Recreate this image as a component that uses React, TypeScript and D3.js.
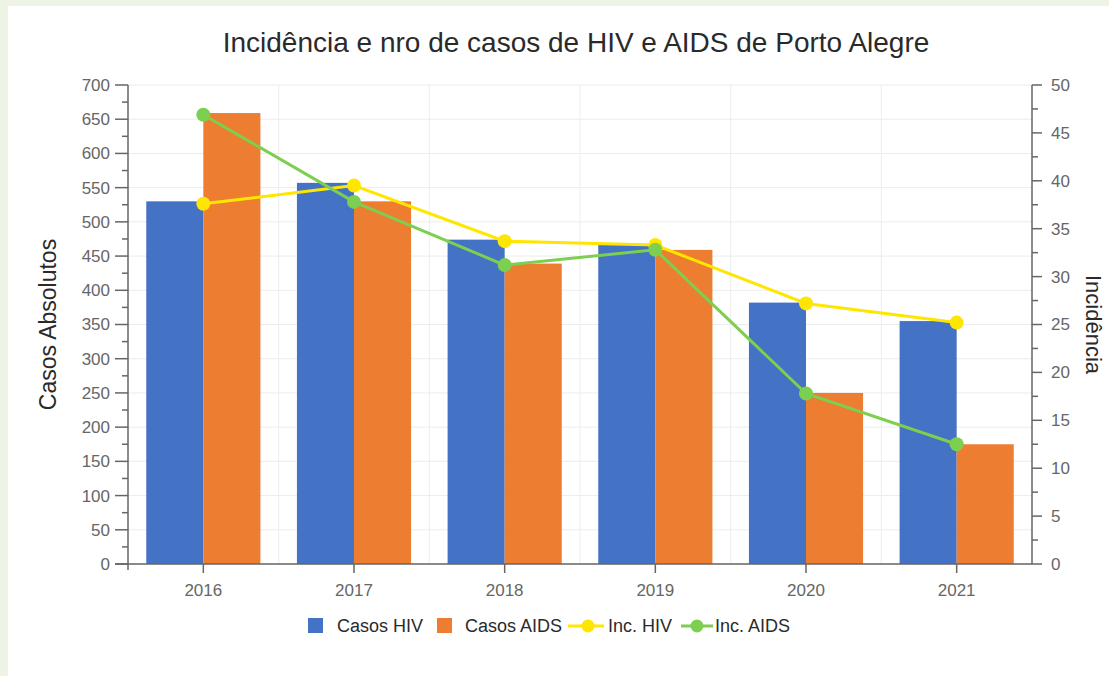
import * as d3 from 'd3';

const years = ['2016', '2017', '2018', '2019', '2020', '2021'];
const casosHIV = [530, 557, 474, 466, 382, 355];
const casosAIDS = [659, 530, 439, 459, 250, 175];
const incHIV = [37.6, 39.5, 33.7, 33.3, 27.2, 25.2];
const incAIDS = [46.9, 37.8, 31.2, 32.8, 17.8, 12.5];
const leftTicks = d3.range(0, 701, 50);
const rightTicks = d3.range(0, 51, 5);

const W = 1109;
const H = 676;
const FONT = '"Liberation Sans", Arial, sans-serif';
const BLUE = '#4472c4';
const ORANGE = '#ed7d31';
const YELLOW = '#ffe600';
const GREEN = '#7ccf4f';
const AXIS = '#666';
const TICK_FS = 17;

export default function App() {
  const margin = { top: 85, right: 77, bottom: 112, left: 128 };
  const x0 = margin.left;
  const x1 = W - margin.right;
  const yTop = margin.top;
  const yBot = H - margin.bottom;

  const x = d3.scaleBand().domain(years).range([x0, x1]).padding(0);
  const inner = d3.scaleBand().domain(['hiv', 'aids']).range([0, x.bandwidth()]).paddingOuter(0.32).paddingInner(0);
  const yL = d3.scaleLinear().domain([0, 700]).range([yBot, yTop]);
  const yR = d3.scaleLinear().domain([0, 50]).range([yBot, yTop]);

  const cx = (d: string) => (x(d) || 0) + x.bandwidth() / 2;
  const line = d3.line<number>().x((_, i) => cx(years[i])).y(v => yR(v));

  const leftMinor = leftTicks.slice(0, -1).map(t => t + 25);
  const rightMinor = rightTicks.slice(0, -1).map(t => t + 2.5);

  return (
    <svg width={W} height={H} style={{ position: 'absolute', left: 0, top: 0, fontFamily: FONT }}>
      <rect x={0} y={0} width={W} height={H} fill="#edf4e6" />
      <rect x={8} y={6} width={W - 8} height={H - 6} fill="#fff" />

      <text x={576} y={52} textAnchor="middle" fontSize={28} fill="#2a2a2a">
        Incidência e nro de casos de HIV e AIDS de Porto Alegre
      </text>

      {/* grid */}
      {leftTicks.map(t => (
        <line key={'g' + t} x1={x0} x2={x1} y1={yL(t)} y2={yL(t)} stroke="#ececec" />
      ))}
      {years.slice(1).map(d => (
        <line key={'v' + d} x1={x(d)} x2={x(d)} y1={yTop} y2={yBot} stroke="#ececec" />
      ))}

      {/* bars */}
      {years.map((d, i) => (
        <g key={'b' + d} transform={`translate(${x(d)},0)`}>
          <rect x={inner('hiv')} y={yL(casosHIV[i])} width={inner.bandwidth()} height={yBot - yL(casosHIV[i])} fill={BLUE} />
          <rect x={inner('aids')} y={yL(casosAIDS[i])} width={inner.bandwidth()} height={yBot - yL(casosAIDS[i])} fill={ORANGE} />
        </g>
      ))}

      {/* lines */}
      <path d={line(incHIV) || ''} fill="none" stroke={YELLOW} strokeWidth={3} />
      <path d={line(incAIDS) || ''} fill="none" stroke={GREEN} strokeWidth={3} />
      {incHIV.map((v, i) => (
        <circle key={'ch' + i} cx={cx(years[i])} cy={yR(v)} r={7} fill={YELLOW} />
      ))}
      {incAIDS.map((v, i) => (
        <circle key={'ca' + i} cx={cx(years[i])} cy={yR(v)} r={7} fill={GREEN} />
      ))}

      {/* left axis */}
      <line x1={x0} x2={x0} y1={yTop} y2={yBot} stroke={AXIS} strokeWidth={1.5} />
      {leftTicks.map(t => (
        <g key={'l' + t}>
          <line x1={x0 - 13} x2={x0} y1={yL(t)} y2={yL(t)} stroke={AXIS} strokeWidth={1.5} />
          <text x={x0 - 18} y={yL(t)} dy="0.35em" textAnchor="end" fontSize={TICK_FS} fill={AXIS}>{t}</text>
        </g>
      ))}
      {leftMinor.map(t => (
        <line key={'lm' + t} x1={x0 - 6} x2={x0} y1={yL(t)} y2={yL(t)} stroke={AXIS} strokeWidth={1.5} />
      ))}

      {/* right axis */}
      <line x1={x1} x2={x1} y1={yTop} y2={yBot} stroke={AXIS} strokeWidth={1.5} />
      {rightTicks.map(t => (
        <g key={'r' + t}>
          <line x1={x1} x2={x1 + 10} y1={yR(t)} y2={yR(t)} stroke={AXIS} strokeWidth={1.5} />
          <text x={x1 + 19} y={yR(t)} dy="0.35em" textAnchor="start" fontSize={TICK_FS} fill={AXIS}>{t}</text>
        </g>
      ))}
      {rightMinor.map(t => (
        <line key={'rm' + t} x1={x1} x2={x1 + 6} y1={yR(t)} y2={yR(t)} stroke={AXIS} strokeWidth={1.5} />
      ))}

      {/* bottom axis */}
      <line x1={x0 - 13} x2={x1} y1={yBot} y2={yBot} stroke={AXIS} strokeWidth={1.5} />
      <line x1={x0} x2={x0} y1={yBot} y2={yBot + 6} stroke={AXIS} strokeWidth={1.5} />
      {years.map(d => (
        <g key={'x' + d}>
          <line x1={cx(d)} x2={cx(d)} y1={yBot} y2={yBot + 9} stroke={AXIS} strokeWidth={1.5} />
          <text x={cx(d)} y={yBot + 26} dy="0.35em" textAnchor="middle" fontSize={TICK_FS} fill={AXIS}>{d}</text>
        </g>
      ))}

      {/* axis titles */}
      <text transform={`translate(56,${(yTop + yBot) / 2}) rotate(-90)`} textAnchor="middle" fontSize={23} fill="#2a2a2a">
        Casos Absolutos
      </text>
      <text transform={`translate(1086,${(yTop + yBot) / 2}) rotate(90)`} textAnchor="middle" fontSize={22} fill="#2a2a2a">
        Incidência
      </text>

      {/* legend */}
      <g fontSize={18} fill="#2a2a2a">
        <rect x={308} y={618} width={15} height={15} fill={BLUE} />
        <text x={337} y={626} dy="0.35em">Casos HIV</text>
        <rect x={437} y={618} width={15} height={15} fill={ORANGE} />
        <text x={465} y={626} dy="0.35em">Casos AIDS</text>
        <line x1={568} x2={604} y1={626} y2={626} stroke={YELLOW} strokeWidth={3} />
        <circle cx={588} cy={626} r={6.5} fill={YELLOW} />
        <text x={608} y={626} dy="0.35em">Inc. HIV</text>
        <line x1={681} x2={713} y1={626} y2={626} stroke={GREEN} strokeWidth={3} />
        <circle cx={697} cy={626} r={6.5} fill={GREEN} />
        <text x={715} y={626} dy="0.35em">Inc. AIDS</text>
      </g>
    </svg>
  );
}
